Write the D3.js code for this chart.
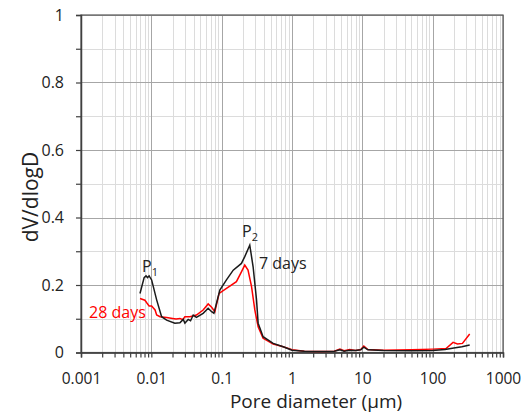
<!DOCTYPE html>
<html><head><meta charset="utf-8">
<script src="https://cdn.jsdelivr.net/npm/d3@7"></script>
<style>body{margin:0;background:#fff}svg{display:block}text{font-family:"Open Sans",sans-serif;}</style>
</head><body><svg id="c" width="529" height="414"></svg>
<script>
// Pore diameter (µm) and dV/dlogD for 7 days
const d7 = [0.0069,0.0079,0.0084,0.0088,0.0093,0.0101,0.0119,0.014,0.0165,0.0216,0.0255,0.0284,0.030,0.0334,0.0361,0.0394,0.0438,0.0545,0.0643,0.072,0.0776,0.0942,0.117,0.146,0.191,0.213,0.251,0.28,0.313,0.33,0.388,0.54,0.75,1.0,1.5,2.5,4.0,4.8,5.5,6.6,8.0,9.5,10.5,12,20,50,100,150,200,260,336];
const v7 = [0.175,0.222,0.227,0.222,0.227,0.215,0.156,0.106,0.096,0.087,0.088,0.098,0.087,0.098,0.094,0.111,0.104,0.116,0.131,0.121,0.116,0.185,0.215,0.244,0.264,0.284,0.318,0.254,0.156,0.087,0.047,0.027,0.017,0.007,0.004,0.003,0.004,0.008,0.004,0.007,0.006,0.008,0.016,0.008,0.006,0.005,0.006,0.009,0.013,0.017,0.022];
// 28 days
const d28 = [0.0069,0.0081,0.0087,0.0093,0.0101,0.0113,0.0119,0.0133,0.0165,0.020,0.0225,0.0255,0.028,0.030,0.0354,0.0438,0.0545,0.0643,0.072,0.08,0.092,0.117,0.162,0.191,0.213,0.237,0.266,0.296,0.33,0.388,0.54,0.75,1.0,1.5,2.5,4.0,4.8,5.5,6.6,8.0,9.5,10.5,12,20,50,100,155,195,225,265,336];
const v28 = [0.16,0.155,0.146,0.138,0.138,0.126,0.111,0.106,0.104,0.101,0.099,0.101,0.097,0.106,0.106,0.111,0.126,0.144,0.134,0.121,0.175,0.19,0.21,0.239,0.259,0.244,0.195,0.126,0.076,0.042,0.025,0.017,0.008,0.004,0.003,0.004,0.010,0.005,0.009,0.006,0.009,0.019,0.009,0.007,0.008,0.010,0.012,0.030,0.025,0.027,0.055];
const xTickLabels = ["0.001","0.01","0.1","1","10","100","1000"];
const xTicks = [0.001,0.01,0.1,1,10,100,1000];
const yTicks = [0,0.2,0.4,0.6,0.8,1];
const yTickLabels = ["0","0.2","0.4","0.6","0.8","1"];

const svg = d3.select("#c");
const x = d3.scaleLog().domain([0.001,1000]).range([81,503]);
const y = d3.scaleLinear().domain([0,1]).range([352.5,15]);

const xMinor = [];
for (let e=-3;e<3;e++) for (let k=2;k<=9;k++) xMinor.push(k*Math.pow(10,e));
const yMinor = d3.range(0.1,1.0,0.2).map(v=>+v.toFixed(1));

const g = svg.append("g");
g.selectAll(".vmin").data(xMinor).join("line")
 .attr("x1",d=>Math.round(x(d))+0.5).attr("x2",d=>Math.round(x(d))+0.5)
 .attr("y1",y(1)).attr("y2",y(0)).attr("stroke","#dcdcdc").attr("stroke-width",1);
g.selectAll(".hmin").data(yMinor).join("line")
 .attr("y1",d=>Math.round(y(d))+0.5).attr("y2",d=>Math.round(y(d))+0.5)
 .attr("x1",x(0.001)).attr("x2",x(1000)).attr("stroke","#dcdcdc").attr("stroke-width",1);
g.selectAll(".vmaj").data(xTicks).join("line")
 .attr("x1",d=>Math.round(x(d))+0.5).attr("x2",d=>Math.round(x(d))+0.5)
 .attr("y1",y(1)).attr("y2",y(0)).attr("stroke","#a6a6a6").attr("stroke-width",1);
g.selectAll(".hmaj").data(yTicks).join("line")
 .attr("y1",d=>Math.round(y(d))+0.5).attr("y2",d=>Math.round(y(d))+0.5)
 .attr("x1",x(0.001)).attr("x2",x(1000)).attr("stroke","#a6a6a6").attr("stroke-width",1);

svg.append("rect").attr("x",x(0.001)).attr("y",y(1)).attr("width",x(1000)-x(0.001)).attr("height",y(0)-y(1))
 .attr("fill","none").attr("stroke","#595959").attr("stroke-width",1.2);

const xAxis = d3.axisBottom(x).tickValues(xTicks.concat(xMinor)).tickSize(5).tickFormat("");
svg.append("g").attr("transform",`translate(0,${y(0)})`).call(xAxis)
 .call(s=>{s.select(".domain").attr("stroke","#404040").attr("stroke-width",1.5);s.selectAll(".tick line").attr("stroke","#404040").attr("stroke-width",1.2);});
const xLab = d3.axisBottom(x).tickValues(xTicks).tickSize(0).tickPadding(20).tickFormat((d,i)=>xTickLabels[i]);
svg.append("g").attr("transform",`translate(0,${y(0)})`).call(xLab)
 .call(s=>{s.select(".domain").remove();s.selectAll("text").attr("font-family","Open Sans").attr("font-size",15.5).attr("fill","#222");});

const yAxis = d3.axisLeft(y).tickValues(yTicks.concat(yMinor)).tickSize(5).tickFormat("");
svg.append("g").attr("transform",`translate(${x(0.001)},0)`).call(yAxis)
 .call(s=>{s.select(".domain").attr("stroke","#404040").attr("stroke-width",1.5);s.selectAll(".tick line").attr("stroke","#404040").attr("stroke-width",1.2);});
const yLab = d3.axisLeft(y).tickValues(yTicks).tickSize(0).tickPadding(17).tickFormat((d,i)=>yTickLabels[i]);
svg.append("g").attr("transform",`translate(${x(0.001)},0)`).call(yLab)
 .call(s=>{s.select(".domain").remove();s.selectAll("text").attr("font-family","Open Sans").attr("font-size",16).attr("fill","#222");});

const line = d3.line().x(d=>x(d[0])).y(d=>y(d[1]));
svg.append("path").datum(d28.map((d,i)=>[d,v28[i]])).attr("d",line).attr("fill","none").attr("stroke","#ff0000").attr("stroke-width",1.5);
svg.append("path").datum(d7.map((d,i)=>[d,v7[i]])).attr("d",line).attr("fill","none").attr("stroke","#1a1a1a").attr("stroke-width",1.5);

svg.append("text").attr("x",316).attr("y",408).attr("text-anchor","middle").attr("font-size",19).attr("fill","#222").text("Pore diameter (µm)");
svg.append("text").attr("transform","translate(38,197) rotate(-90)").attr("text-anchor","middle").attr("font-size",21).attr("fill","#222").text("dV/dlogD");

const p1 = svg.append("text").attr("x",142).attr("y",272).attr("font-size",16).attr("fill","#222");
p1.append("tspan").text("P");
p1.append("tspan").attr("font-size",11).attr("dy",4).text("1");
const p2 = svg.append("text").attr("x",242).attr("y",237).attr("font-size",16).attr("fill","#222");
p2.append("tspan").text("P");
p2.append("tspan").attr("font-size",11).attr("dy",4).text("2");
svg.append("text").attr("x",259).attr("y",269).attr("font-size",16).attr("fill","#222").text("7 days");
svg.append("text").attr("x",89).attr("y",318).attr("font-size",16).attr("fill","#ff0000").text("28 days");
</script></body></html>
